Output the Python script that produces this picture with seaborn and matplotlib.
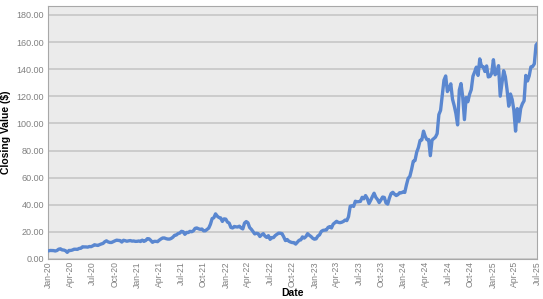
import matplotlib
matplotlib.use("Agg")
import matplotlib.pyplot as plt
import matplotlib.dates as mdates
from matplotlib.ticker import FuncFormatter, MultipleLocator
import pandas as pd
import seaborn as sns

# Weekly closing values (split-adjusted, $), one list per year
v2020 = [6.0, 6.3, 6.25, 6.2, 5.9, 6.3, 7.25, 7.5, 6.7, 6.6, 6.1, 4.9, 6.3,
         6.3, 6.6, 7.2, 7.2, 7.1, 7.8, 7.9, 9.0, 8.9, 8.9, 8.75, 9.2, 9.1,
         9.7, 10.5, 10.2, 10.0, 10.6, 11.1, 11.5, 12.7, 13.4, 12.6, 12.2,
         12.2, 12.8, 13.4, 13.9, 13.7, 13.6, 12.5, 13.8, 13.5, 13.1, 13.4,
         13.6, 13.2, 13.3, 13.0]
v2021 = [13.05, 13.3, 12.9, 13.9, 13.0, 13.6, 15.0, 14.9, 13.7, 12.3, 13.0,
         13.0, 12.8, 13.9, 14.8, 15.5, 15.5, 15.0, 14.7, 14.7, 15.2, 16.1,
         17.5, 17.7, 18.8, 19.1, 20.4, 20.1, 18.2, 19.6, 19.5, 20.4, 20.1,
         20.8, 22.6, 22.9, 22.3, 21.9, 22.1, 20.8, 20.8, 21.8, 22.8, 25.6,
         29.8, 30.4, 33.3, 31.6, 30.6, 30.3, 27.7, 29.6, 29.4]
v2022 = [27.2, 26.5, 23.3, 22.9, 24.0, 23.7, 23.6, 24.2, 22.9, 22.2, 26.5,
         27.6, 26.7, 23.2, 21.9, 20.2, 18.5, 19.0, 18.7, 16.6, 17.8, 18.7,
         16.9, 15.9, 17.2, 14.5, 15.8, 15.8, 17.3, 18.2, 19.1, 19.0, 18.7,
         16.3, 13.6, 14.4, 13.1, 12.5, 12.1, 12.1, 11.0, 12.4, 13.8, 14.1,
         16.3, 15.4, 16.5, 18.7, 17.5, 16.6, 15.3, 14.6]
v2023 = [14.9, 16.9, 17.8, 20.3, 21.1, 21.3, 21.4, 23.3, 23.9, 22.9, 25.7,
         26.7, 27.8, 27.0, 26.8, 27.1, 27.7, 28.7, 28.3, 31.2, 38.9, 39.3,
         38.8, 42.6, 42.2, 42.3, 42.5, 45.5, 44.4, 46.8, 44.7, 40.9, 43.3,
         46.0, 48.5, 45.5, 43.9, 41.6, 43.5, 45.7, 45.4, 41.3, 40.5, 45.0,
         48.3, 49.2, 47.8, 46.8, 47.5, 48.9, 48.8, 49.5]
v2024 = [49.1, 54.7, 59.5, 61.0, 66.1, 72.1, 72.6, 78.8, 82.2, 87.5, 87.8,
         94.3, 90.4, 88.0, 88.1, 76.2, 87.7, 88.8, 89.9, 92.5, 106.5, 109.6,
         120.9, 131.9, 135.0, 123.5, 125.8, 129.2, 117.9, 113.1, 107.3, 98.9,
         124.6, 129.4, 119.4, 102.8, 119.1, 116.0, 121.4, 124.9, 134.8, 138.0,
         141.5, 135.4, 147.6, 142.0, 141.9, 138.3, 142.4, 134.3, 134.7, 137.0]
v2025 = [147.0, 135.9, 137.7, 142.6, 120.1, 129.8, 138.9, 134.4, 124.9, 112.7,
         121.7, 117.7, 109.7, 94.3, 110.9, 101.5, 111.0, 114.5, 116.7, 135.4,
         131.3, 135.1, 141.7, 142.0, 143.9, 157.8, 159.3]

years = [2020, 2021, 2022, 2023, 2024, 2025]
values = [v2020, v2021, v2022, v2023, v2024, v2025]

frames = []
for yr, vals in zip(years, values):
    d = pd.date_range(f"{yr}-01-01", periods=len(vals), freq="W-FRI")
    frames.append(pd.DataFrame({"Date": d, "Close": vals}))
df = pd.concat(frames, ignore_index=True)

x_start = "2020-01-01"
x_end = "2025-07-01"
y_max = 186.6
y_step = 20

sns.set_style("white", {"axes.facecolor": "#EBEBEB"})
plt.rcParams["font.family"] = ["Liberation Sans", "DejaVu Sans"]

fig = plt.figure(figsize=(5.43, 2.99), dpi=100)
ax = fig.add_axes([48 / 543, 1 - 259 / 299, (537 - 48) / 543, (259 - 6) / 299])

ax.yaxis.set_major_locator(MultipleLocator(y_step))
ax.grid(axis="y", color="#C6C6C6", linewidth=1.2, zorder=0)
ax.set_axisbelow(True)

sns.lineplot(data=df, x="Date", y="Close", ax=ax, color="#5A87D0",
             linewidth=2.4, zorder=3)

ax.set_xlim(pd.Timestamp(x_start), pd.Timestamp(x_end))
ax.set_ylim(0, y_max)

ax.xaxis.set_major_locator(mdates.MonthLocator(bymonth=[1, 4, 7, 10]))
ax.xaxis.set_major_formatter(mdates.DateFormatter("%b-%y"))
ax.yaxis.set_major_formatter(FuncFormatter(lambda v, p: f"{v:.2f}"))

ax.tick_params(axis="x", labelrotation=90, labelsize=6.2, colors="#808080",
               length=0, pad=1.5)
ax.tick_params(axis="y", labelsize=6.5, colors="#808080", length=0, pad=3)

for s in ax.spines.values():
    s.set_color("#A8A8A8")
    s.set_linewidth(0.8)

ax.set_xlabel("Date", fontsize=7.5, fontweight="bold", color="black")
ax.xaxis.set_label_coords(0.5, -0.113)
ax.set_ylabel("Closing Value ($)", fontsize=7.5, fontweight="bold",
              color="black", labelpad=4)

fig.savefig("out.png", dpi=100)
